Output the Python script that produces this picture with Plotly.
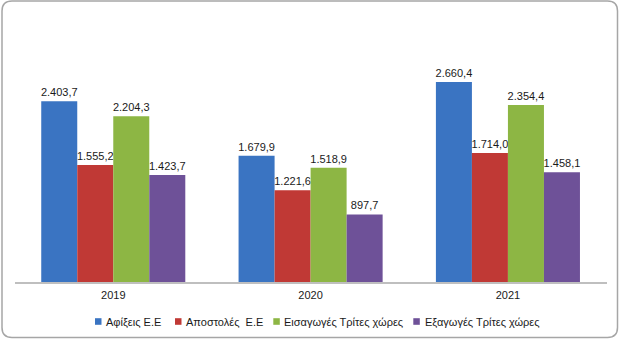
import plotly.graph_objects as go

W, H = 620, 340

years = ["2019", "2020", "2021"]
series_names = ["Αφίξεις Ε.Ε", "Αποστολές\u00a0 Ε.Ε", "Εισαγωγές Τρίτες χώρες", "Εξαγωγές Τρίτες χώρες"]
afixeis = [2403.7, 1679.9, 2660.4]
apostoles = [1555.2, 1221.6, 1714.0]
eisagoges = [2204.3, 1518.9, 2354.4]
exagoges = [1423.7, 897.7, 1458.1]
colors = ["#3A74C2", "#C03935", "#8DB644", "#6E5198"]

values = [afixeis, apostoles, eisagoges, exagoges]
FONT = "Liberation Sans Narrow, Liberation Sans, Arial"

fig = go.Figure()
for name, vals, col in zip(series_names, values, colors):
    fig.add_trace(go.Bar(
        x=years, y=vals, name=name, marker=dict(color=col, line=dict(width=0)),
        texttemplate="%{y:,.1f}", textposition="outside", constraintext="none",
        cliponaxis=False, textfont=dict(family=FONT, size=11, color="#1a1a1a"),
        showlegend=False,
    ))

# plot area in pixels
x0, x1 = 14.6, 606.6
ytop, ybot = 18.8, 282

fig.update_layout(
    width=W, height=H, margin=dict(l=0, r=0, t=0, b=0),
    paper_bgcolor="white", plot_bgcolor="white",
    barmode="group", bargap=0.27, bargroupgap=0,
    separators=",.",
    font=dict(family=FONT, size=11, color="#1a1a1a"),
    xaxis=dict(domain=[x0 / W, x1 / W], showline=True, linecolor="#BFBFBF", linewidth=2,
               showgrid=False, zeroline=False, ticks="", ticklabelstandoff=2,
               tickfont=dict(family=FONT, size=11, color="#1a1a1a")),
    yaxis=dict(domain=[(H - ybot) / H, (H - ytop) / H], range=[0, 3500], visible=False),
)

# rounded frame
L, T, R, B = 2 / W, 1 / H, 617.5 / W, 337.5 / H
rx, ry = 10 / W, 10 / H
yT, yB = 1 - T, 1 - B
path = (f"M {L+rx},{yT} L {R-rx},{yT} Q {R},{yT} {R},{yT-ry} L {R},{yB+ry} Q {R},{yB} {R-rx},{yB} "
        f"L {L+rx},{yB} Q {L},{yB} {L},{yB+ry} L {L},{yT-ry} Q {L},{yT} {L+rx},{yT} Z")
fig.add_shape(type="path", path=path, xref="paper", yref="paper",
              line=dict(color="#A6A6A6", width=1.5), fillcolor="rgba(0,0,0,0)")

# legend (squares + text)
sq_x = [95, 175, 273.3, 413.3]
txt_x = [104, 184, 282.3, 423]
ly = 321.5
for sx, tx, name, col in zip(sq_x, txt_x, series_names, colors):
    fig.add_shape(type="rect", xref="paper", yref="paper",
                  x0=sx / W, x1=(sx + 6.5) / W, y0=(H - ly - 3.3) / H, y1=(H - ly + 3.3) / H,
                  line=dict(width=0), fillcolor=col)
    fig.add_annotation(x=tx / W, y=(H - ly) / H, xref="paper", yref="paper", text=name,
                       showarrow=False, xanchor="left", yanchor="middle",
                       font=dict(family=FONT, size=11, color="#1a1a1a"))

fig.write_html("out.html")
